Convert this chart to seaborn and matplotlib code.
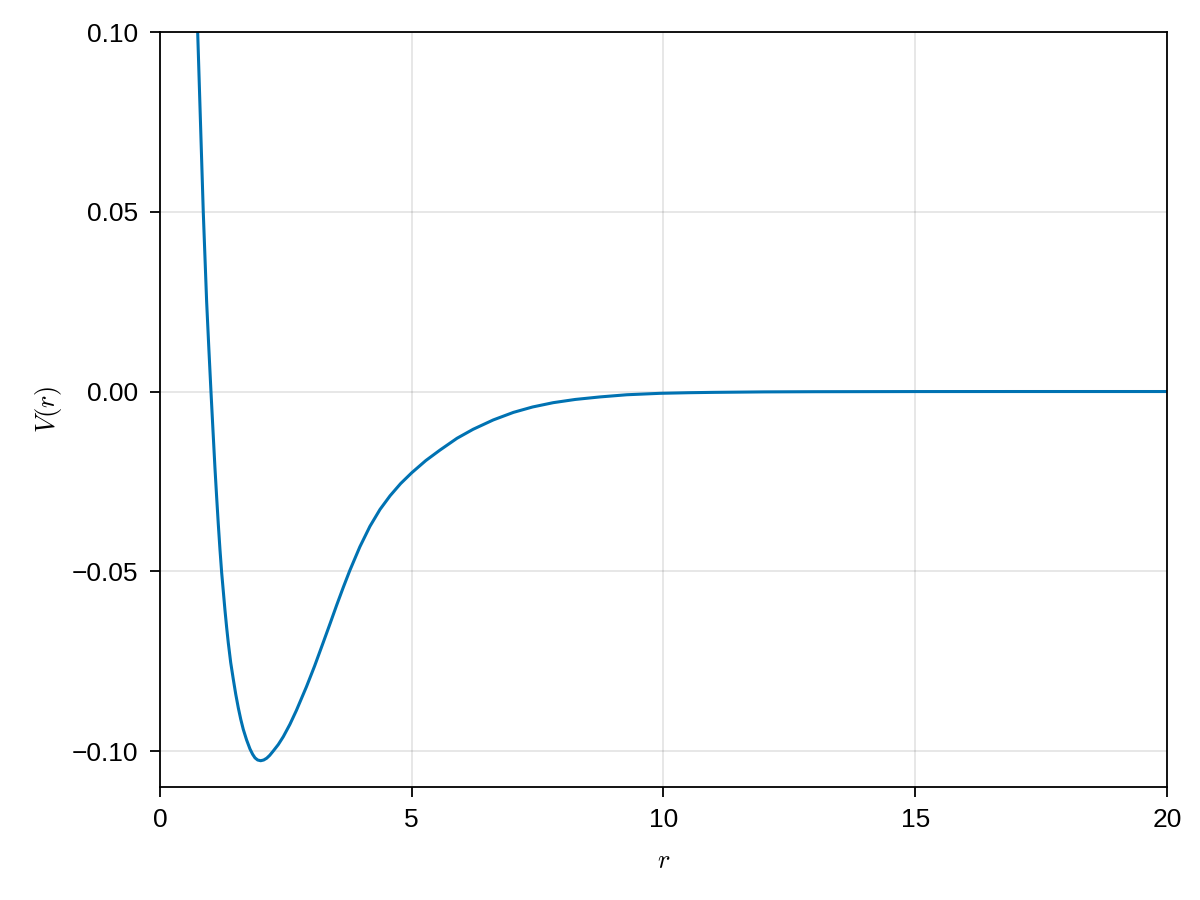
import matplotlib
matplotlib.use("Agg")
import matplotlib.pyplot as plt
import matplotlib.ticker as mticker
import pandas as pd
import seaborn as sns

# values
r_values = [0.70, 0.749, 0.80, 0.86, 0.927, 0.970, 1.013, 1.050, 1.092, 1.126,
            1.159, 1.192, 1.225, 1.291, 1.325, 1.357, 1.405, 1.456, 1.505, 1.556,
            1.605, 1.655, 1.72, 1.787, 1.84, 1.887, 1.94, 2.00, 2.06, 2.12,
            2.18, 2.25, 2.35, 2.45, 2.58, 2.71, 2.91, 3.07, 3.24, 3.38,
            3.51, 3.64, 3.77, 3.97, 4.17, 4.37, 4.57, 4.78, 5.0, 5.28,
            5.56, 5.90, 6.22, 6.62, 7.02, 7.40, 7.81, 8.25, 8.74, 9.27,
            9.93, 10.5, 11.0, 12.0, 13.0, 15.0, 17.0, 20.0]
v_values = [0.125, 0.100, 0.077, 0.050, 0.025, 0.0122, 0.000, -0.0100, -0.0212, -0.0294,
            -0.0370, -0.0440, -0.0503, -0.0608, -0.0657, -0.0699, -0.0754, -0.0800, -0.0842, -0.0880,
            -0.0912, -0.0940, -0.0969, -0.0994, -0.1009, -0.1019, -0.1025, -0.1027, -0.1025, -0.1020,
            -0.1012, -0.1000, -0.0982, -0.0960, -0.0926, -0.0887, -0.0821, -0.0764, -0.0699, -0.0645,
            -0.0594, -0.0545, -0.0498, -0.0432, -0.0375, -0.0328, -0.0290, -0.0256, -0.0226, -0.0192,
            -0.0163, -0.0130, -0.0105, -0.0079, -0.0058, -0.0043, -0.0031, -0.0022, -0.0015, -0.0009,
            -0.0005, -0.00033, -0.00023, -0.0001, -0.00005, -0.00001, 0.0, 0.0]

x_ticks = [0, 5, 10, 15, 20]
y_ticks = [-0.10, -0.05, 0.00, 0.05, 0.10]

sns.set_style("ticks")
plt.rcParams["font.family"] = ["Liberation Sans", "DejaVu Sans"]
plt.rcParams["mathtext.fontset"] = "cm"

df = pd.DataFrame({"r": r_values, "V": v_values})

fig = plt.figure(figsize=(12, 9), dpi=100)
ax = fig.add_axes([0.1333, 0.1256, 0.8392, 0.8388])

sns.lineplot(data=df, x="r", y="V", ax=ax, color="#0072B2", linewidth=2.2)
ax.lines[0].set_solid_joinstyle("round")

ax.set_xlim(0, 20)
ax.set_ylim(-0.11, 0.10)
ax.set_xticks(x_ticks)
ax.set_yticks(y_ticks)
ax.yaxis.set_major_formatter(mticker.FuncFormatter(lambda v, _: f"{v:.2f}".replace("-", "\u2212")))

ax.grid(True, color="black", alpha=0.12, linewidth=1.1)
for side in ax.spines.values():
    side.set_visible(True)
    side.set_color("black")
    side.set_linewidth(1.3)
ax.tick_params(direction="out", length=7.5, width=1.3, labelsize=19, pad=8,
               colors="black", labelcolor="black")

ax.set_xlabel("$r$", fontsize=19, labelpad=12, color="black")
ax.set_ylabel("$V(r)$", fontsize=19, labelpad=6, color="black")

fig.savefig("out.png", dpi=100)
